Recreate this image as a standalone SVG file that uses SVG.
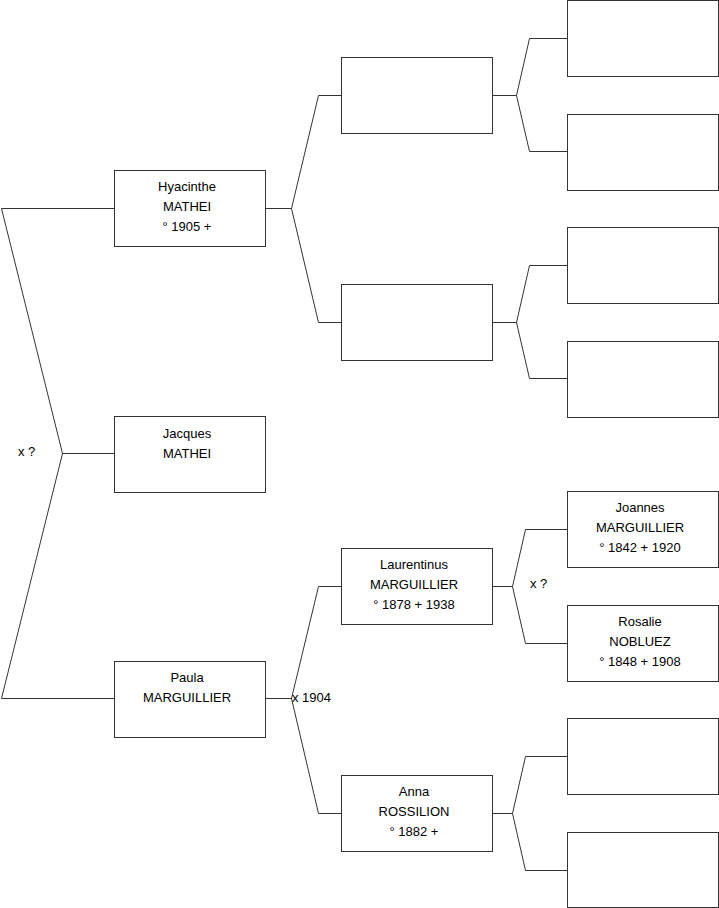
<svg xmlns="http://www.w3.org/2000/svg" width="719" height="908" viewBox="0 0 719 908">
<style>
.n rect{fill:#fff;stroke:#333;stroke-width:1}
.n text,.l{font-family:"Liberation Sans",Arial,sans-serif;font-size:13px;fill:#000}
.n text{text-anchor:middle}
#c path{fill:none;stroke:#333;stroke-width:1}
</style>
<rect width="719" height="908" fill="#fff"/>
<g id="c">
<path d="M114.5 208.5H1.5L62.5 453.5L1.5 698.5H114.5M62.5 453.5H114.5"/>
<path d="M265.5 208.5H291.5M341.5 95.5H318.5L291.5 208.5L318.5 322.5H341.5"/>
<path d="M265.5 698.5H291.5M341.5 586.5H318.5L291.5 698.5L318.5 813.5H341.5"/>
<path d="M492.5 95.5H516.5M567.5 38.5H529.5L516.5 95.5L529.5 151.5H567.5"/>
<path d="M492.5 322.5H516.5M567.5 265.5H529.5L516.5 322.5L529.5 378.5H567.5"/>
<path d="M492.5 586.5H512.5M567.5 529.5H525.5L512.5 586.5L525.5 643.5H567.5"/>
<path d="M492.5 813.5H512.5M567.5 756.5H525.5L512.5 813.5L525.5 870.5H567.5"/>
</g>
<text class="l" x="18" y="456">x ?</text>
<text class="l" x="292" y="702">x 1904</text>
<text class="l" x="530" y="588">x ?</text>
<g id="hyacinthe" class="n"><rect x="114.5" y="170.5" width="151" height="76"/><text x="187" y="191">Hyacinthe</text><text x="187" y="211">MATHEI</text><text x="187" y="231">° 1905 +</text></g>
<g id="jacques" class="n"><rect x="114.5" y="416.5" width="151" height="76"/><text x="187" y="438">Jacques</text><text x="187" y="458">MATHEI</text></g>
<g id="paula" class="n"><rect x="114.5" y="661.5" width="151" height="76"/><text x="187" y="682">Paula</text><text x="187" y="702">MARGUILLIER</text></g>
<g id="f1" class="n"><rect x="341.5" y="57.5" width="151" height="76"/></g>
<g id="m1" class="n"><rect x="341.5" y="284.5" width="151" height="76"/></g>
<g id="laurentinus" class="n"><rect x="341.5" y="548.5" width="151" height="76"/><text x="414" y="569">Laurentinus</text><text x="414" y="589">MARGUILLIER</text><text x="414" y="609">° 1878 + 1938</text></g>
<g id="anna" class="n"><rect x="341.5" y="775.5" width="151" height="76"/><text x="414" y="796">Anna</text><text x="414" y="816">ROSSILION</text><text x="414" y="836">° 1882 +</text></g>
<g id="g1" class="n"><rect x="567.5" y="0.5" width="151" height="76"/></g>
<g id="g2" class="n"><rect x="567.5" y="114.5" width="151" height="76"/></g>
<g id="g3" class="n"><rect x="567.5" y="227.5" width="151" height="76"/></g>
<g id="g4" class="n"><rect x="567.5" y="341.5" width="151" height="76"/></g>
<g id="joannes" class="n"><rect x="567.5" y="491.5" width="151" height="76"/><text x="640" y="512">Joannes</text><text x="640" y="532">MARGUILLIER</text><text x="640" y="552">° 1842 + 1920</text></g>
<g id="rosalie" class="n"><rect x="567.5" y="605.5" width="151" height="76"/><text x="640" y="626">Rosalie</text><text x="640" y="646">NOBLUEZ</text><text x="640" y="666">° 1848 + 1908</text></g>
<g id="g7" class="n"><rect x="567.5" y="718.5" width="151" height="76"/></g>
<g id="g8" class="n"><rect x="567.5" y="832.5" width="151" height="75"/></g>
</svg>
